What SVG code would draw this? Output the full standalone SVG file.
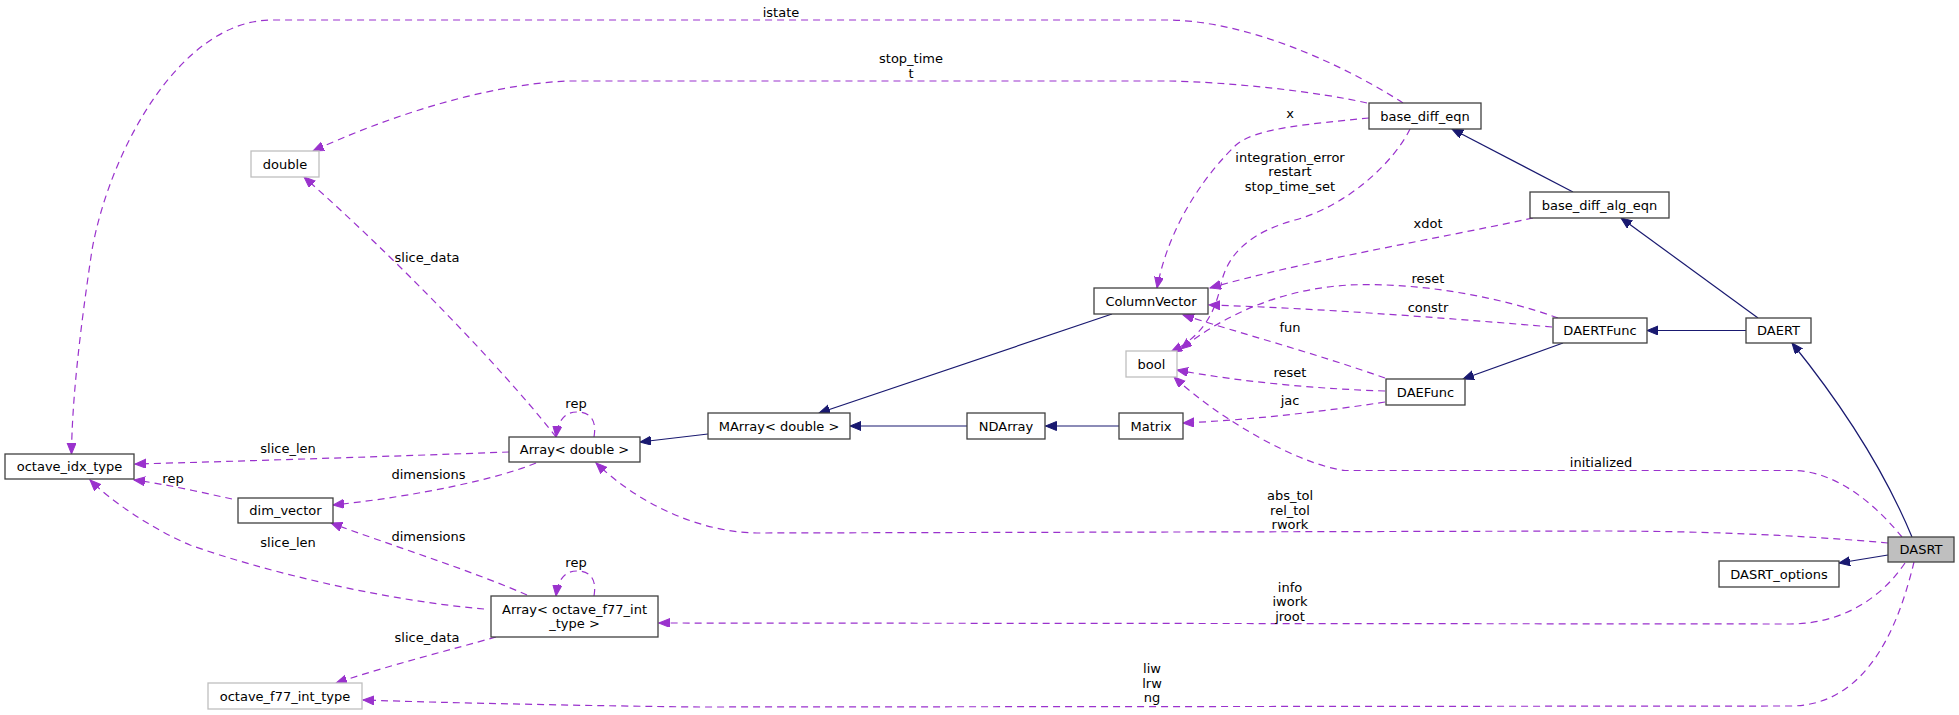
<svg xmlns="http://www.w3.org/2000/svg" width="1959" height="715" viewBox="0 0 1959 715">
<style>
rect{fill:#fff;stroke:#404040;stroke-width:1.3}
rect.u{stroke:#bfbfbf}
rect.cur{fill:#bfbfbf}
text{font-family:"DejaVu Sans",sans-serif;font-size:13px;fill:#000;text-anchor:middle}
.inh{fill:none;stroke:#191970;stroke-width:1.2;marker-end:url(#an)}
.use{fill:none;stroke:#9a32cd;stroke-width:1.2;stroke-dasharray:7,5;marker-end:url(#ap)}
</style>
<defs>
<marker id="an" markerWidth="12" markerHeight="10" refX="11" refY="4.5" orient="auto" markerUnits="userSpaceOnUse"><path d="M0,0 L11,4.5 L0,9 z" fill="#191970" stroke="#191970" stroke-width="1"/></marker>
<marker id="ap" markerWidth="12" markerHeight="10" refX="11" refY="4.5" orient="auto" markerUnits="userSpaceOnUse"><path d="M0,0 L11,4.5 L0,9 z" fill="#9a32cd" stroke="#9a32cd" stroke-width="1"/></marker>
</defs>
<rect x="0" y="0" width="1959" height="715" style="fill:#fff;stroke:none"/>
<g id="edges">
<path class="inh" d="M1573,192 L1452,129"/>
<path class="inh" d="M1758,318 L1621,218"/>
<path class="inh" d="M1746,330.5 L1647,330.5"/>
<path class="inh" d="M1563,343 L1463,379"/>
<path class="inh" d="M1912,537 C1880,460 1830,390 1792,343"/>
<path class="inh" d="M1888,555 L1839,563"/>
<path class="inh" d="M1112,314 L819,413"/>
<path class="inh" d="M967,426 L850,426"/>
<path class="inh" d="M1119,426 L1045.5,426"/>
<path class="inh" d="M708,434 L640,442"/>

<path class="use" d="M1403,103 C1360,75 1260,22 1170,20 L270,20 C180,22 110,150 92,250 C80,330 72,400 71.5,454"/>
<text x="781" y="16.5">istate</text>
<path class="use" d="M1367,103 C1320,92 1230,82 1168,81 L567,81 C480,85 380,120 313,151"/>
<text x="911" y="63">stop_time</text>
<text x="911" y="77.5">t</text>
<path class="use" d="M1369,118 C1310,124 1255,128 1236,145 C1210,170 1170,220 1157,288"/>
<text x="1290" y="117.5">x</text>
<path class="use" d="M1410,129 C1395,160 1350,205 1295,220 C1255,231 1230,250 1222,280 C1216,310 1205,335 1171,352"/>
<text x="1290" y="161.5">integration_error</text>
<text x="1290" y="176">restart</text>
<text x="1290" y="190.5">stop_time_set</text>
<path class="use" d="M1533,218 C1430,240 1300,262 1210,288"/>
<text x="1428" y="227.5">xdot</text>
<path class="use" d="M1558,318 C1500,297 1420,282 1350,285 C1290,288 1230,310 1181,349"/>
<text x="1428" y="282.5">reset</text>
<path class="use" d="M1552,327 C1470,320 1320,308 1209,305"/>
<text x="1428" y="311.5">constr</text>
<path class="use" d="M1385,378 C1320,355 1240,333 1183,315"/>
<text x="1290" y="331.5">fun</text>
<path class="use" d="M1385,391 C1320,389 1240,382 1177,370"/>
<text x="1290" y="376.5">reset</text>
<path class="use" d="M1385,402 C1320,412 1250,420 1183,423"/>
<text x="1290" y="405">jac</text>
<path class="use" d="M1902,537 C1880,510 1840,471 1793,470.5 L1345,470.5 C1300,465 1220,420 1174,377"/>
<text x="1601" y="466.5">initialized</text>
<path class="use" d="M1888,543 C1800,535 1700,531 1600,531 L757,533 C700,532 640,505 596,463"/>
<text x="1290" y="500">abs_tol</text>
<text x="1290" y="514.5">rel_tol</text>
<text x="1290" y="529">rwork</text>
<path class="use" d="M1905,563 C1880,600 1840,624 1790,624 L659,623"/>
<text x="1290" y="591.5">info</text>
<text x="1290" y="606">iwork</text>
<text x="1290" y="620.5">jroot</text>
<path class="use" d="M1914,562 C1900,620 1870,706 1790,706 L700,707 C600,706 450,703 363,700"/>
<text x="1152" y="673">liw</text>
<text x="1152" y="687.5">lrw</text>
<text x="1152" y="702">ng</text>
<path class="use" d="M556,437 C520,390 420,280 304,177"/>
<text x="427" y="261.5">slice_data</text>
<path class="use" d="M594,437 C597,420 590,412 577,412 C565,412 558,420 556,437"/>
<text x="576" y="408">rep</text>
<path class="use" d="M509,452 C400,456 250,461 135,464"/>
<text x="288" y="452.5">slice_len</text>
<path class="use" d="M536,463 C500,478 420,496 333,505"/>
<text x="428.5" y="478.5">dimensions</text>
<path class="use" d="M232,499 C200,492 165,484 134,480"/>
<text x="173" y="483">rep</text>
<path class="use" d="M484,609 C380,600 260,570 190,545 C150,528 110,500 90,480"/>
<text x="288" y="547">slice_len</text>
<path class="use" d="M527,595 C470,570 390,545 331,523"/>
<text x="428.5" y="540.5">dimensions</text>
<path class="use" d="M594,596 C597,579 590,571 577,571 C565,571 558,579 556,596"/>
<text x="576" y="567">rep</text>
<path class="use" d="M496,637 C450,650 390,665 336,683"/>
<text x="427" y="641.5">slice_data</text>
</g>

<g id="node-double"><rect class="u" x="251" y="151" width="68" height="26"/><text x="285" y="168.5">double</text></g>
<g id="node-base_diff_eqn"><rect x="1369" y="103" width="112" height="26"/><text x="1425" y="120.5">base_diff_eqn</text></g>
<g id="node-base_diff_alg_eqn"><rect x="1530" y="192" width="139" height="26"/><text x="1599.5" y="209.5">base_diff_alg_eqn</text></g>
<g id="node-ColumnVector"><rect x="1094" y="288" width="114" height="26"/><text x="1151" y="305.5">ColumnVector</text></g>
<g id="node-bool"><rect class="u" x="1126" y="351" width="51" height="26"/><text x="1151.5" y="368.5">bool</text></g>
<g id="node-DAERTFunc"><rect x="1553" y="318" width="94" height="25"/><text x="1600" y="335">DAERTFunc</text></g>
<g id="node-DAERT"><rect x="1746" y="318" width="65" height="25"/><text x="1778.5" y="335">DAERT</text></g>
<g id="node-DAEFunc"><rect x="1386" y="379" width="79" height="26"/><text x="1425.5" y="396.5">DAEFunc</text></g>
<g id="node-MArray"><rect x="708" y="413" width="142" height="26"/><text x="779" y="430.5">MArray&lt; double &gt;</text></g>
<g id="node-NDArray"><rect x="967" y="413" width="78" height="26"/><text x="1006" y="430.5">NDArray</text></g>
<g id="node-Matrix"><rect x="1119" y="413" width="64" height="26"/><text x="1151" y="430.5">Matrix</text></g>
<g id="node-Array-double"><rect x="509" y="437" width="131" height="25"/><text x="574.5" y="454">Array&lt; double &gt;</text></g>
<g id="node-octave_idx_type"><rect x="5" y="454" width="129" height="25"/><text x="69.5" y="471">octave_idx_type</text></g>
<g id="node-dim_vector"><rect x="238" y="498" width="95" height="25"/><text x="285.5" y="515">dim_vector</text></g>
<g id="node-Array-f77"><rect x="491" y="596" width="167" height="41"/><text x="574.5" y="614">Array&lt; octave_f77_int</text><text x="574.5" y="628">_type &gt;</text></g>
<g id="node-octave_f77_int_type"><rect class="u" x="208" y="683" width="154" height="26"/><text x="285" y="700.5">octave_f77_int_type</text></g>
<g id="node-DASRT"><rect class="cur" x="1888" y="537" width="66" height="25"/><text x="1921" y="554">DASRT</text></g>
<g id="node-DASRT_options"><rect x="1719" y="561" width="120" height="26"/><text x="1779" y="578.5">DASRT_options</text></g>
</svg>
